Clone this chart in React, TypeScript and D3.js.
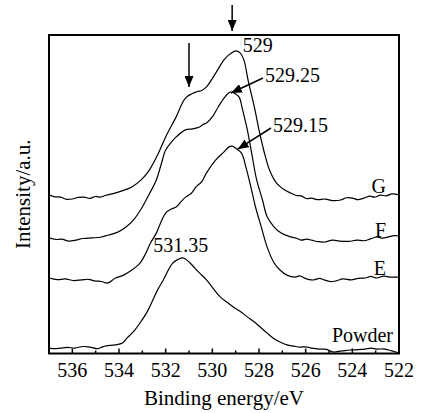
import * as d3 from "d3";

const width = 423;
const height = 413;
const left = 49;
const right = 399;
const top = 35;
const bottom = 353.5;
const font = "'Liberation Serif', 'Times New Roman', serif";

// [binding energy eV, intensity a.u.]
const seriesG: [number, number][] = [
  [537.0, 49.8], [536.75, 49.2], [536.5, 49.1], [536.25, 48.4], [536.0, 48.5],
  [535.75, 49.0], [535.5, 49.1], [535.25, 48.7], [535.0, 49.3], [534.8, 49.1],
  [534.55, 49.7], [534.3, 50.1], [533.9, 51.0], [533.45, 52.3], [533.05, 54.5],
  [532.7, 57.6], [532.35, 62.3], [532.0, 68.0], [531.55, 74.3], [531.15, 80.2],
  [530.7, 82.1], [530.45, 82.6], [530.25, 83.7], [529.85, 88.1], [529.5, 92.2],
  [529.25, 94.0], [529.0, 95.0], [528.8, 94.3], [528.65, 92.2], [528.45, 85.2],
  [528.2, 77.4], [528.0, 70.2], [527.8, 63.9], [527.55, 57.6], [527.25, 53.5],
  [526.95, 51.6], [526.65, 50.4], [526.4, 49.6], [526.2, 49.5], [525.95, 48.6],
  [525.75, 48.8], [525.5, 48.3], [525.15, 48.5], [524.85, 48.0], [524.5, 48.2],
  [524.25, 48.9], [524.0, 48.8], [523.75, 48.3], [523.5, 48.8], [523.25, 49.4],
  [523.05, 49.1], [522.8, 49.7], [522.55, 49.5], [522.3, 50.1], [522.0, 49.8],
];

const seriesF: [number, number][] = [
  [537.0, 36.3], [536.7, 35.8], [536.45, 35.9], [536.15, 35.3], [535.85, 35.6],
  [535.55, 36.1], [535.15, 36.3], [534.8, 36.5], [534.45, 37.2], [534.05, 38.1],
  [533.7, 39.7], [533.35, 42.2], [533.0, 46.0], [532.7, 50.1], [532.4, 54.5],
  [532.2, 59.2], [532.0, 63.9], [531.75, 66.4], [531.55, 68.0], [531.15, 70.2],
  [530.85, 70.5], [530.55, 71.1], [530.4, 71.9], [530.25, 72.4], [530.0, 74.3],
  [529.75, 77.4], [529.5, 80.2], [529.3, 81.8], [529.2, 82.1], [529.0, 81.5],
  [528.85, 80.5], [528.7, 76.4], [528.5, 70.2], [528.3, 62.3], [528.1, 54.5],
  [527.85, 48.2], [527.65, 42.9], [527.35, 39.7], [527.05, 37.8], [526.65, 36.6],
  [526.4, 36.2], [526.2, 35.6], [525.95, 35.9], [525.75, 35.6], [525.45, 35.1],
  [525.2, 35.0], [524.85, 35.6], [524.55, 35.3], [524.15, 35.2], [523.8, 35.6],
  [523.5, 35.4], [523.25, 35.9], [522.95, 36.6], [522.7, 36.2], [522.45, 36.6],
  [522.2, 37.0], [522.0, 36.9],
];

const seriesE: [number, number][] = [
  [537.0, 23.7], [536.65, 23.2], [536.3, 23.4], [535.95, 22.9], [535.6, 23.1],
  [535.3, 23.3], [535.05, 22.8], [534.75, 22.6], [534.5, 22.1], [534.15, 23.7],
  [533.8, 24.6], [533.45, 26.2], [533.1, 28.4], [532.85, 31.5], [532.65, 34.7],
  [532.4, 37.8], [532.2, 41.3], [532.0, 44.1], [531.75, 45.4], [531.55, 46.0],
  [531.35, 47.6], [531.15, 49.1], [530.9, 50.3], [530.7, 52.3], [530.45, 54.0],
  [530.25, 56.7], [529.85, 60.8], [529.5, 63.3], [529.3, 64.8], [529.15, 65.1],
  [529.0, 64.5], [528.75, 62.9], [528.55, 58.2], [528.35, 52.3], [528.15, 46.0],
  [527.9, 39.7], [527.65, 33.4], [527.35, 28.4], [527.1, 26.2], [526.8, 24.6],
  [526.45, 24.0], [526.25, 24.4], [526.05, 23.7], [525.85, 23.2], [525.65, 23.1],
  [525.4, 23.6], [525.2, 23.1], [524.95, 22.6], [524.7, 22.8], [524.4, 23.4],
  [524.05, 23.1], [523.75, 23.6], [523.45, 23.7], [523.2, 24.2], [522.95, 23.7],
  [522.65, 24.3], [522.4, 24.0], [522.0, 24.0],
];

const seriesPowder: [number, number][] = [
  [537.0, 1.7], [536.75, 1.5], [536.5, 1.7], [536.2, 1.9], [535.9, 1.7],
  [535.55, 2.2], [535.25, 2.0], [534.9, 1.5], [534.7, 2.1], [534.55, 2.4],
  [534.15, 2.7], [533.85, 3.3], [533.65, 4.9], [533.35, 7.1], [533.1, 9.6],
  [532.8, 13.0], [532.55, 16.8], [532.35, 19.9], [532.1, 23.1], [531.95, 25.3],
  [531.7, 28.4], [531.5, 29.4], [531.3, 30.0], [531.15, 29.7], [530.95, 28.4],
  [530.75, 26.8], [530.55, 25.3], [530.25, 23.1], [529.95, 20.3], [529.65, 17.7],
  [529.35, 16.0], [529.1, 14.6], [528.8, 13.2], [528.5, 11.5], [528.2, 9.9],
  [527.95, 8.3], [527.65, 6.4], [527.4, 4.9], [527.1, 3.6], [526.8, 2.7],
  [526.5, 2.3], [526.25, 2.0], [526.0, 2.1], [525.75, 1.7], [525.4, 1.4],
  [525.1, 1.3], [524.85, 0.5], [524.45, 0.8], [524.1, 1.1], [523.75, 1.2],
  [523.45, 1.4], [523.2, 1.7], [522.95, 1.4], [522.6, 1.4], [522.3, 0.8],
  [522.0, 0.2],
];

const majorTicks = [536, 534, 532, 530, 528, 526, 524, 522];
const minorTicks = [537, 535, 533, 531, 529, 527, 525, 523];

const x = d3.scaleLinear().domain([537, 522]).range([left, right]);
const y = d3.scaleLinear().domain([0, 100]).range([bottom, top]);

const line = d3
  .line<[number, number]>()
  .x((d) => x(d[0]))
  .y((d) => y(d[1]))
  .curve(d3.curveCatmullRom.alpha(0.5));

const curves = [
  { name: "G", data: seriesG, labelY: 193 },
  { name: "F", data: seriesF, labelY: 237 },
  { name: "E", data: seriesE, labelY: 275 },
];

const App = () => {
  return (
    <div style={{ position: "absolute", left: 0, top: 0 }}>
      <svg width={width} height={height} style={{ display: "block", background: "#fff" }}>
        <defs>
          <marker
            id="head"
            markerUnits="userSpaceOnUse"
            markerWidth={11}
            markerHeight={9}
            refX={11}
            refY={4.5}
            orient="auto"
          >
            <path d="M0,0 L11,4.5 L0,9 z" fill="#000" />
          </marker>
        </defs>

        {curves.map((c) => (
          <path key={c.name} d={line(c.data) ?? ""} fill="none" stroke="#000" strokeWidth={1.2} />
        ))}
        <path d={line(seriesPowder) ?? ""} fill="none" stroke="#000" strokeWidth={1.2} />

        <rect
          x={left}
          y={top}
          width={right - left}
          height={bottom - top}
          fill="none"
          stroke="#000"
          strokeWidth={2}
        />

        {majorTicks.map((t) => (
          <g key={t}>
            <line x1={x(t)} x2={x(t)} y1={bottom} y2={bottom - 5} stroke="#000" strokeWidth={1.5} />
            <text x={x(t)} y={377} textAnchor="middle" fontFamily={font} fontSize={20}>
              {t}
            </text>
          </g>
        ))}
        {minorTicks.map((t) => (
          <line key={t} x1={x(t)} x2={x(t)} y1={bottom} y2={bottom - 3} stroke="#000" strokeWidth={1.5} />
        ))}

        <text x={(left + right) / 2} y={405} textAnchor="middle" fontFamily={font} fontSize={21}>
          Binding energy/eV
        </text>
        <text
          transform={`translate(30,${(top + bottom) / 2}) rotate(-90)`}
          textAnchor="middle"
          fontFamily={font}
          fontSize={21}
        >
          Intensity/a.u.
        </text>

        {curves.map((c) => (
          <text key={c.name} x={386} y={c.labelY} textAnchor="end" fontFamily={font} fontSize={20}>
            {c.name}
          </text>
        ))}
        <text x={393} y={342} textAnchor="end" fontFamily={font} fontSize={20}>
          Powder
        </text>

        <text x={x(529) + 7} y={52} fontFamily={font} fontSize={20}>529</text>
        <text x={265} y={82} fontFamily={font} fontSize={20}>529.25</text>
        <text x={273} y={132} fontFamily={font} fontSize={20}>529.15</text>
        <text x={x(531.35)} y={252} textAnchor="middle" fontFamily={font} fontSize={20}>531.35</text>

        <line x1={263} y1={78} x2={x(529.2)} y2={y(82.1) + 1} stroke="#000" strokeWidth={1.5} markerEnd="url(#head)" />
        <line x1={271} y1={128} x2={x(529.0) + 2} y2={y(65.1) + 3} stroke="#000" strokeWidth={1.5} markerEnd="url(#head)" />

        <line x1={x(529.15)} y1={5} x2={x(529.15)} y2={31} stroke="#000" strokeWidth={1.5} markerEnd="url(#head)" />
        <line x1={x(531.0)} y1={43} x2={x(531.0)} y2={87} stroke="#000" strokeWidth={1.5} markerEnd="url(#head)" />
      </svg>
    </div>
  );
};

export default App;
